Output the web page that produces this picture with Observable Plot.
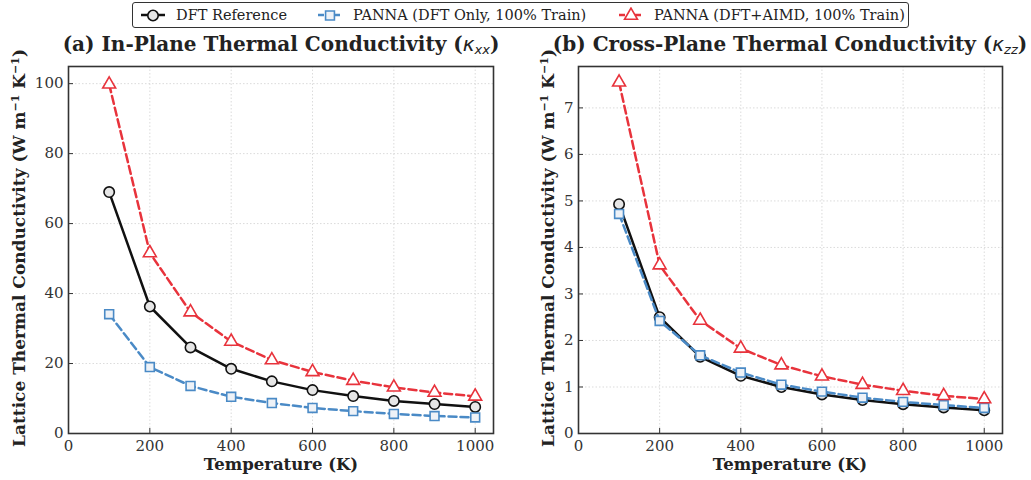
<!DOCTYPE html>
<html>
<head>
<meta charset="utf-8">
<script src="https://cdn.jsdelivr.net/npm/d3@7"></script>
<script src="https://cdn.jsdelivr.net/npm/@observablehq/plot@0.6"></script>
<style>
  html, body { margin: 0; padding: 0; background: #fff; }
  #root { position: relative; width: 1031px; height: 480px; overflow: hidden; font-family: "DejaVu Serif", serif; color: #222; }
  .panel { position: absolute; top: 0; }
  .title { position: absolute; top: 31px; font-weight: bold; font-size: 20px; white-space: nowrap; transform: translateX(-50%); color: #222; line-height: 26px; }
  .title .k { font-family: "DejaVu Sans", sans-serif; font-style: italic; font-weight: normal; }
  .title sub { font-size: 13px; vertical-align: -3px; }
  .ylab { position: absolute; font-weight: bold; font-size: 17px; white-space: nowrap; transform: translate(-50%, -50%) rotate(-90deg); color: #222; }
  .ylab sup { font-size: 11px; }
  .xlab { position: absolute; top: 455px; font-weight: bold; font-size: 16.5px; white-space: nowrap; transform: translateX(-50%); color: #222; }
  #legend { position: absolute; left: 132px; top: 2px; width: 777px; height: 26px; border: 1px solid #333; border-radius: 3px; font-size: 14.5px; box-sizing: border-box; }
  #legend .item { display: flex; align-items: center; position: absolute; top: 0; height: 100%; white-space: nowrap; }
  #legend svg { margin-right: 10px; }
</style>
</head>
<body>
<div id="root">
  <div id="legend"></div>
  <div class="panel" id="pA" style="left:0px"></div>
  <div class="panel" id="pB" style="left:515px"></div>
  <div class="title" style="left:281px">(a) In-Plane Thermal Conductivity (<span class="k">κ<sub>xx</sub></span>)</div>
  <div class="title" style="left:790px">(b) Cross-Plane Thermal Conductivity (<span class="k">κ<sub>zz</sub></span>)</div>
  <div class="ylab" style="left:19px; top:248px">Lattice Thermal Conductivity (W m<sup>−1</sup> K<sup>−1</sup>)</div>
  <div class="ylab" style="left:548px; top:248px">Lattice Thermal Conductivity (W m<sup>−1</sup> K<sup>−1</sup>)</div>
  <div class="xlab" style="left:281px">Temperature (K)</div>
  <div class="xlab" style="left:790px">Temperature (K)</div>
</div>
<script>
// ---- data ----
const temperatures = [100, 200, 300, 400, 500, 600, 700, 800, 900, 1000];
const seriesNames = ["DFT Reference", "PANNA (DFT Only, 100% Train)", "PANNA (DFT+AIMD, 100% Train)"];
const kxxDFT   = [69.0, 36.3, 24.6, 18.5, 14.9, 12.4, 10.7, 9.3, 8.4, 7.6];
const kxxPanna = [34.1, 19.0, 13.6, 10.5, 8.7, 7.3, 6.4, 5.6, 5.0, 4.6];
const kxxAIMD  = [99.8, 51.6, 34.7, 26.3, 21.0, 17.6, 15.1, 13.2, 11.7, 10.6];
const kzzDFT   = [4.93, 2.50, 1.65, 1.24, 1.00, 0.84, 0.72, 0.63, 0.56, 0.50];
const kzzPanna = [4.72, 2.42, 1.68, 1.31, 1.05, 0.90, 0.77, 0.68, 0.61, 0.55];
const kzzAIMD  = [7.55, 3.62, 2.43, 1.83, 1.47, 1.23, 1.05, 0.92, 0.81, 0.74];
const xTicks = [0, 200, 400, 600, 800, 1000];
const yTicksA = [0, 20, 40, 60, 80, 100];
const yTicksB = [0, 1, 2, 3, 4, 5, 6, 7];

// ---- styles ----
const styles = [
  {stroke: "#111111", dash: null, symbol: "circle", fill: "#e6e6e6", r: 5.2},
  {stroke: "#4a8ac6", dash: "8,4", symbol: "square", fill: "#eef2f7", r: 5.0},
  {stroke: "#e8333c", dash: "8,4", symbol: "triangle", fill: "#ffffff", r: 4.8}
];

function panel(seriesArrays, yDomain, yTicks, width, mL, mR) {
  const marks = [
    Plot.gridX(xTicks, {stroke: "#d2d2d2", strokeOpacity: 1, strokeDasharray: "1.5,2", strokeWidth: 0.8}),
    Plot.gridY(yTicks, {stroke: "#d2d2d2", strokeOpacity: 1, strokeDasharray: "1.5,2", strokeWidth: 0.8}),
    Plot.axisX(xTicks, {tickSize: -5, tickPadding: 12, fontSize: 15, fill: "#333", stroke: "#333", tickFormat: d => String(d)}),
    Plot.axisY(yTicks, {tickSize: -5, tickPadding: 10, fontSize: 15, fill: "#333", stroke: "#333", tickFormat: d => String(d)})
  ];
  seriesArrays.forEach((vals, i) => {
    const s = styles[i];
    const data = temperatures.map((t, j) => ({t, v: vals[j]}));
    marks.push(Plot.line(data, {x: "t", y: "v", stroke: s.stroke, strokeWidth: 2.5, strokeDasharray: s.dash ?? undefined}));
    marks.push(Plot.dot(data, {x: "t", y: "v", symbol: s.symbol, r: s.r, stroke: s.stroke, strokeWidth: 1.6, fill: s.fill}));
  });
  marks.push(Plot.frame({stroke: "#333", strokeWidth: 1.6}));
  return Plot.plot({
    width, height: 480,
    marginLeft: mL, marginRight: mR, marginTop: 66, marginBottom: 47,
    style: {fontFamily: "DejaVu Serif, serif", fontSize: "15px", background: "transparent", overflow: "visible"},
    x: {domain: [0, 1045], label: null},
    y: {domain: yDomain, label: null},
    marks
  });
}

document.getElementById("pA").appendChild(panel([kxxDFT, kxxPanna, kxxAIMD], [0, 104.9], yTicksA, 515, 68, 22));
document.getElementById("pB").appendChild(panel([kzzDFT, kzzPanna, kzzAIMD], [0, 7.89], yTicksB, 516, 63, 29));

// ---- legend ----
const legend = document.getElementById("legend");
const lefts = [7, 184, 485];
seriesNames.forEach((name, i) => {
  const s = styles[i];
  const item = document.createElement("div");
  item.className = "item";
  item.style.left = lefts[i] + "px";
  const sym = d3.symbol(s.symbol === "circle" ? d3.symbolCircle : s.symbol === "square" ? d3.symbolSquare : d3.symbolTriangle, s.r * s.r * Math.PI)();
  item.innerHTML = `<svg width="26" height="16"><line x1="1" x2="25" y1="8" y2="8" stroke="${s.stroke}" stroke-width="2.5" ${s.dash ? 'stroke-dasharray="6,2"' : ''}/><path d="${sym}" transform="translate(13,8.5)" fill="${s.fill}" stroke="${s.stroke}" stroke-width="1.6"/></svg><span>${name}</span>`;
  legend.appendChild(item);
});
</script>
</body>
</html>
